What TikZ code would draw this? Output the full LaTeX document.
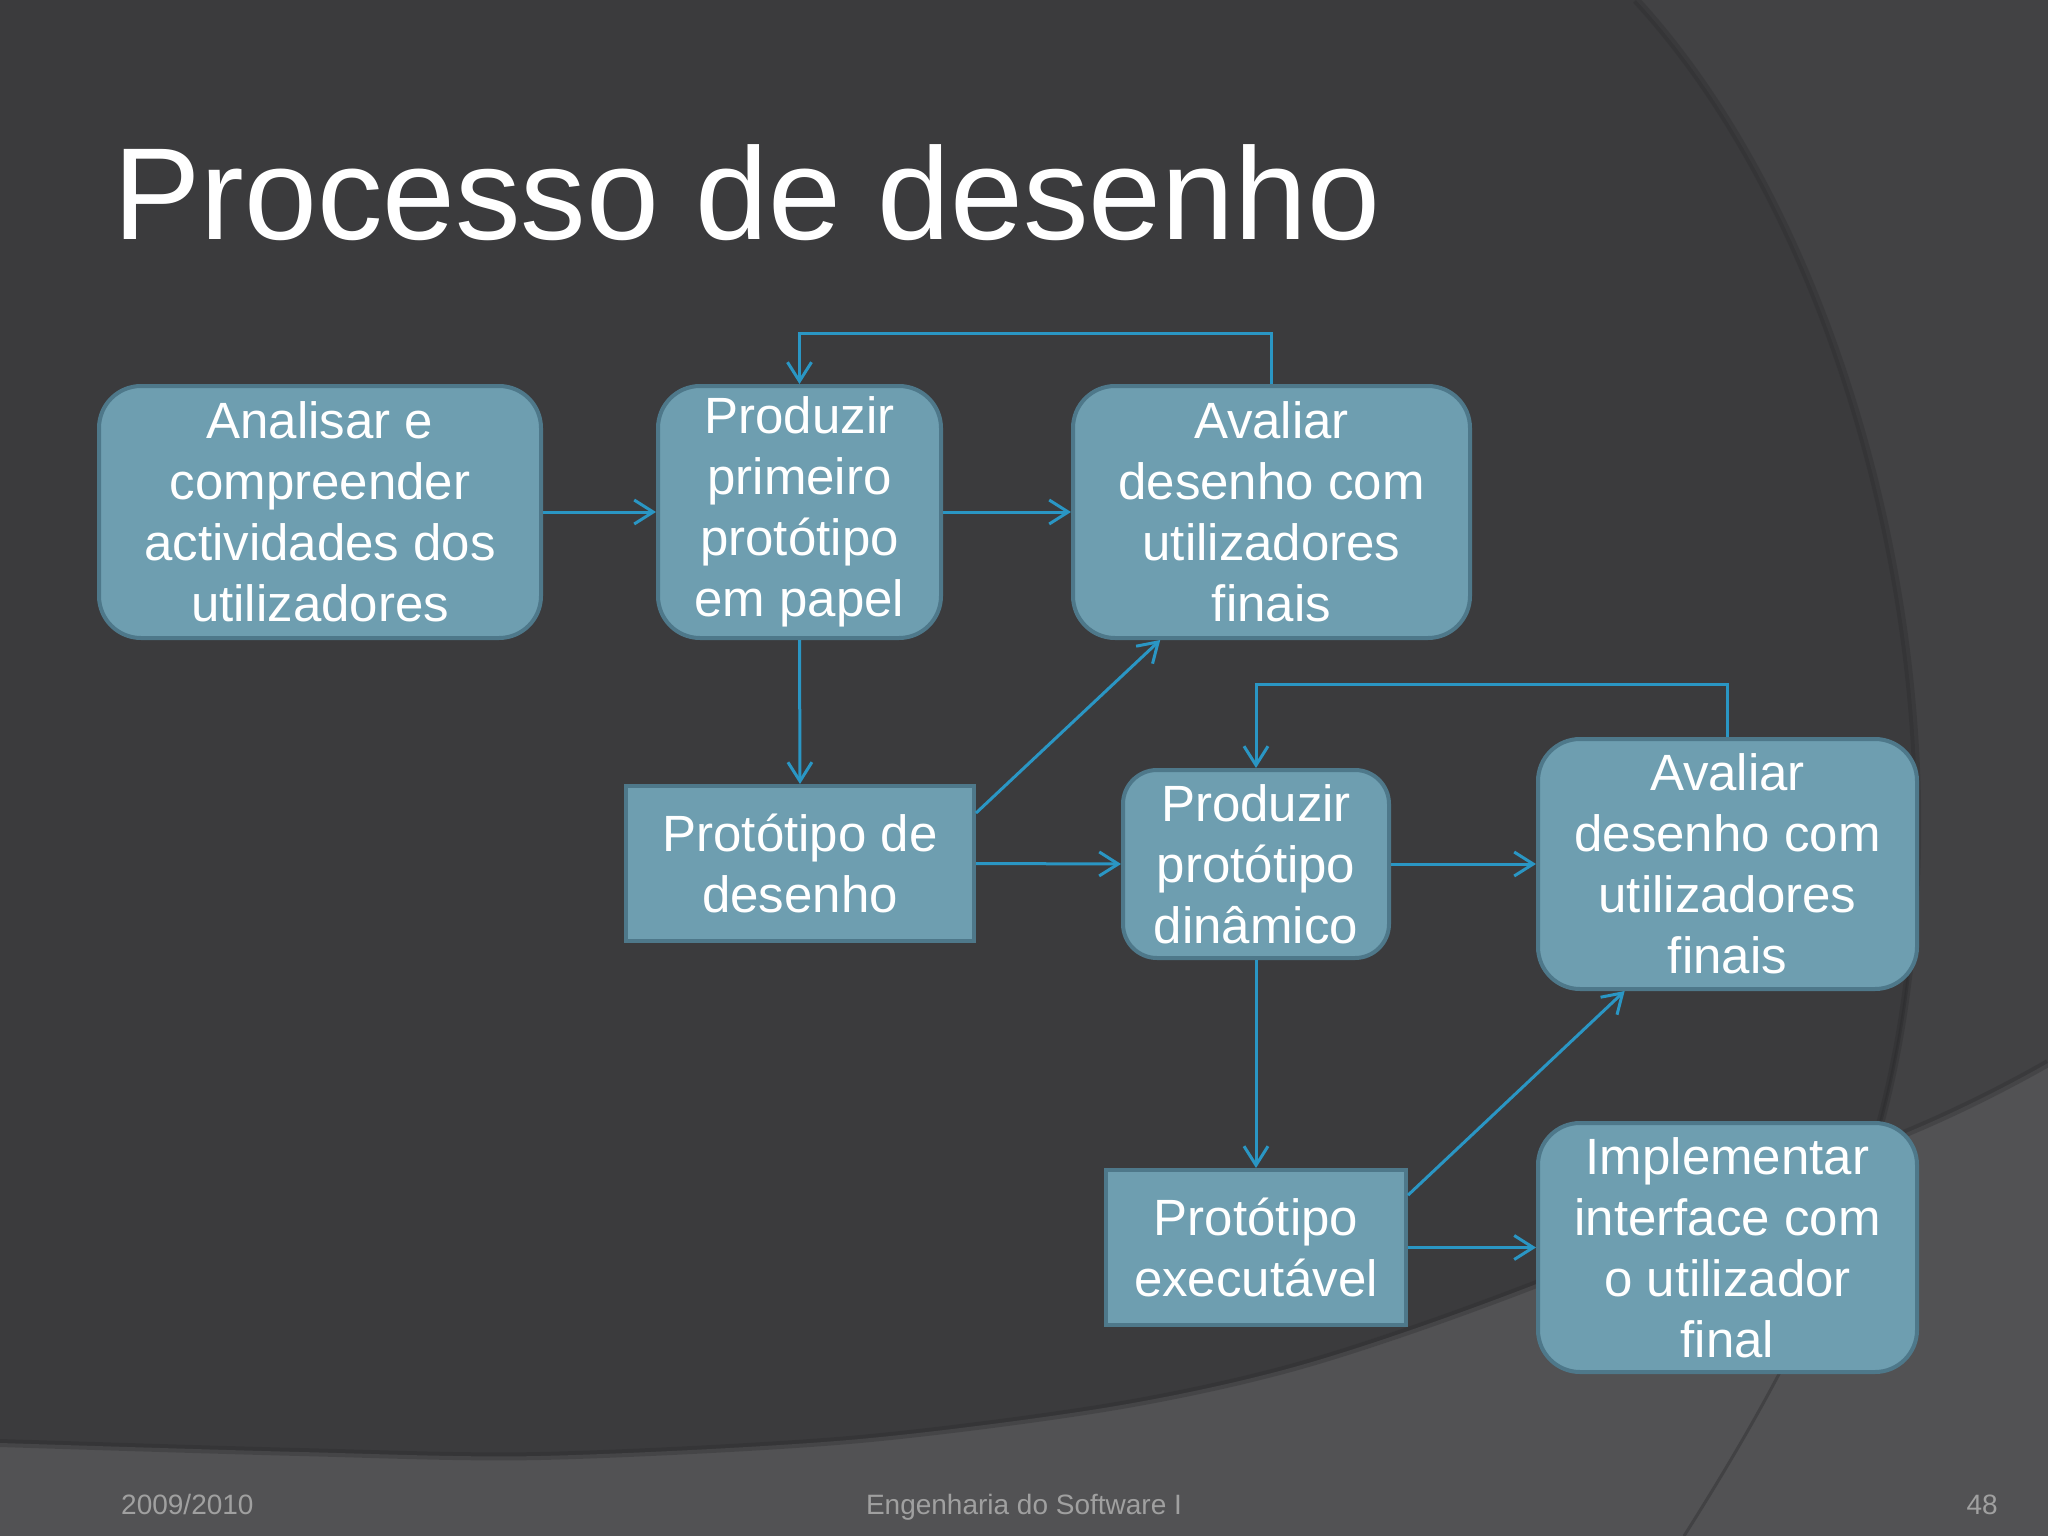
\documentclass[tikz,border=0pt]{standalone}
\usepackage{fontspec}
\setmainfont{Liberation Sans}
\usetikzlibrary{arrows.meta}
\definecolor{bgdark}{HTML}{3B3B3D}
\definecolor{bgright}{HTML}{424244}
\definecolor{bglow}{HTML}{525254}
\definecolor{bgedge}{HTML}{2A2A2C}
\definecolor{boxfill}{HTML}{6E9EB0}
\definecolor{boxline}{HTML}{4E788A}
\definecolor{arrowblue}{HTML}{2A96C4}
\definecolor{footgray}{HTML}{A0A0A0}
\begin{document}
\begin{tikzpicture}[x=1pt,y=-1pt,
  proc/.style={draw=boxline, line width=4pt, fill=boxfill, rounded corners=42pt, inner sep=0pt, align=center, text=white, font=\fontsize{51}{61}\selectfont},
  sqproc/.style={proc, rounded corners=0pt},
  arr/.style={draw=arrowblue, line width=3pt, -{Straight Barb[length=19pt,width=24pt]}},
  foot/.style={text=footgray, font=\fontsize{28}{34}\selectfont, inner sep=0pt}]
\useasboundingbox (0,0) rectangle (2048,1536);
% background
\fill[bgdark] (0,0) rectangle (2048,1536);
\fill[bgright] (1636,0) .. controls (1820,200) and (1930,560) .. (1916,880) .. controls (1905,1120) and (1840,1290) .. (1684,1536) -- (2048,1536) -- (2048,0) -- cycle;
\draw[bgedge, line width=8pt, opacity=.3] (1636,0) .. controls (1820,200) and (1930,560) .. (1916,880) .. controls (1905,1120) and (1840,1290) .. (1684,1536);
\fill[bglow] plot[smooth] coordinates {(0,1443) (300,1452) (540,1456) (849,1440) (1110,1407) (1305,1364) (1534,1285) (1920,1127) (2048,1063)} -- (2048,1536) -- (0,1536) -- cycle;
\draw[bgedge, line width=8pt, opacity=.3] plot[smooth] coordinates {(0,1443) (300,1452) (540,1456) (849,1440) (1110,1407) (1305,1364) (1534,1285) (1920,1127) (2048,1063)};
\draw[bgedge, line width=3pt, opacity=.4] (1916,880) .. controls (1905,1120) and (1840,1290) .. (1684,1536);
% title
\node[anchor=base west, inner sep=0pt, text=white, font=\fontsize{131}{157}\selectfont] (title) at (113,239) {Processo de desenho};
% nodes
\node[proc, minimum width=442pt, minimum height=252pt] (A) at (320,512) {Analisar e\\compreender\\actividades dos\\utilizadores};
\node[proc, minimum width=283pt, minimum height=252pt] (B) at (799.5,512) {Produzir\\primeiro\\protótipo\\em papel\vphantom{\smash{p}}};
\node[proc, minimum width=397pt, minimum height=252pt] (C) at (1271.5,512) {Avaliar\\desenho com\\utilizadores\\finais};
\node[sqproc, minimum width=348pt, minimum height=155pt] (D) at (800,863.5) {Protótipo de\\desenho};
\node[proc, rounded corners=34pt, minimum width=266pt, minimum height=188pt] (E) at (1256,864) {Produzir\\protótipo\\dinâmico};
\node[proc, minimum width=379pt, minimum height=250pt] (F) at (1727.5,864) {Avaliar\\desenho com\\utilizadores\\finais};
\node[sqproc, minimum width=300pt, minimum height=155pt] (G) at (1256,1247.5) {Protótipo\\executável};
\node[proc, minimum width=379pt, minimum height=249pt] (H) at (1727.5,1247.5) {Implementar\\interface com\\o utilizador\\final};
% connectors
\draw[arr] (A.east) -- (B.west);
\draw[arr] (B.east) -- (C.west);
\draw[arr] (C.north) -- ++(0,-51) -| (B.north);
\draw[arr] (B.south) -- (D.north);
\draw[arr] (D.16) -- (C.229);
\draw[arr] (D.east) -- (E.west);
\draw[arr] (E.east) -- (F.west);
\draw[arr] (F.north) -- ++(0,-53) -| (E.north);
\draw[arr] (E.south) -- (G.north);
\draw[arr] (G.19) -- (F.231);
\draw[arr] (G.east) -- (H.west);
% footer
\node[foot, anchor=base west] (fdate) at (121,1514) {2009/2010};
\node[foot, anchor=base] (fcourse) at (1024,1514) {Engenharia do Software I};
\node[foot, anchor=base east] (fpage) at (1998,1514) {48};
\end{tikzpicture}
\end{document}
